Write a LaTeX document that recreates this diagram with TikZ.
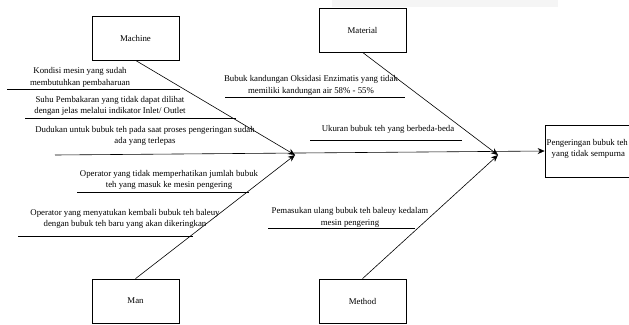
\documentclass[tikz,border=0pt]{standalone}
\usepackage{fontspec}
\setmainfont{Liberation Serif}
\usepackage{tikz}
\usetikzlibrary{arrows.meta,positioning}

\begin{document}
\begin{tikzpicture}[
    x=1pt, y=-1pt,
    catbox/.style={rectangle, draw, line width=0.7pt, minimum width=87pt,
                minimum height=44pt, font=\fontsize{8.8}{11.5}\selectfont},
    cause/.style={align=center, inner sep=0pt, font=\fontsize{8.8}{11.5}\selectfont},
    bone/.style={line width=0.6pt},
    >={Stealth[length=7pt,width=6pt]}
]
\useasboundingbox (0,0) rectangle (629,324);
\fill[black!4] (332,0) rectangle (558,7);

% category boxes
\node[catbox] (machine) at (135.5,38) {Machine};
\node[catbox] (material) at (362.5,30) {Material};
\node[catbox] (man) at (135.5,301) {Man};
\node[catbox] (method) at (362.5,301) {Method};
\node[catbox, minimum width=90pt, minimum height=52pt, align=center] (effect) at (590,151) {};
\node[cause, anchor=west, align=left] (effecttext) at (546.5,149)
    {Pengeringan bubuk teh\\\hspace*{5pt}yang tidak sempurna};

% spine
\coordinate (tail) at (55,155);
\coordinate (j1) at (295,155);
\coordinate (j2) at (498,155);
\draw[bone,->] (tail) -- (effect.west);
\draw[bone,->] (machine.south) -- (j1);
\draw[bone,->] (man.north) -- (j1);
\draw[bone,->] (material.south) -- (j2);
\draw[bone,->] (method.north) -- (j2);

% causes
\node[cause] (c1) at (80,77.5) {Kondisi mesin yang sudah\\membutuhkan pembaharuan};
\draw[bone] (7,89) coordinate (c1a) -- (180,89) coordinate (c1b);
\node[cause] (c2) at (110,106) {Suhu Pembakaran yang tidak dapat dilihat\\dengan jelas melalui indikator Inlet/ Outlet};
\draw[bone] (25,118) coordinate (c2a) -- (236,118) coordinate (c2b);
\node[cause] (c3) at (145,136) {Dudukan untuk bubuk teh pada saat proses pengeringan sudah\\ada yang terlepas};
\node[cause] (c4) at (311,85.5) {Bubuk kandungan Oksidasi Enzimatis yang tidak\\memiliki kandungan air 58\% - 55\%};
\draw[bone] (225,97) coordinate (c4a) -- (405,97) coordinate (c4b);
\node[cause] (c5) at (388,129) {Ukuran bubuk teh yang berbeda-beda};
\draw[bone] (310,140) coordinate (c5a) -- (462,140) coordinate (c5b);
\node[cause] (c6) at (169,180) {Operator yang tidak memperhatikan jumlah bubuk\\teh yang masuk ke mesin pengering};
\draw[bone] (77,192) coordinate (c6a) -- (249,192) coordinate (c6b);
\node[cause] (c7) at (125,219) {Operator yang menyatukan kembali bubuk teh baleuy\\dengan bubuk teh baru yang akan dikeringkan};
\draw[bone] (18,236) coordinate (c7a) -- (193,236) coordinate (c7b);
\node[cause] (c8) at (350,217.5) {Pemasukan ulang bubuk teh baleuy kedalam\\mesin pengering};
\draw[bone] (268,228) coordinate (c8a) -- (415,228) coordinate (c8b);
\end{tikzpicture}
\end{document}
